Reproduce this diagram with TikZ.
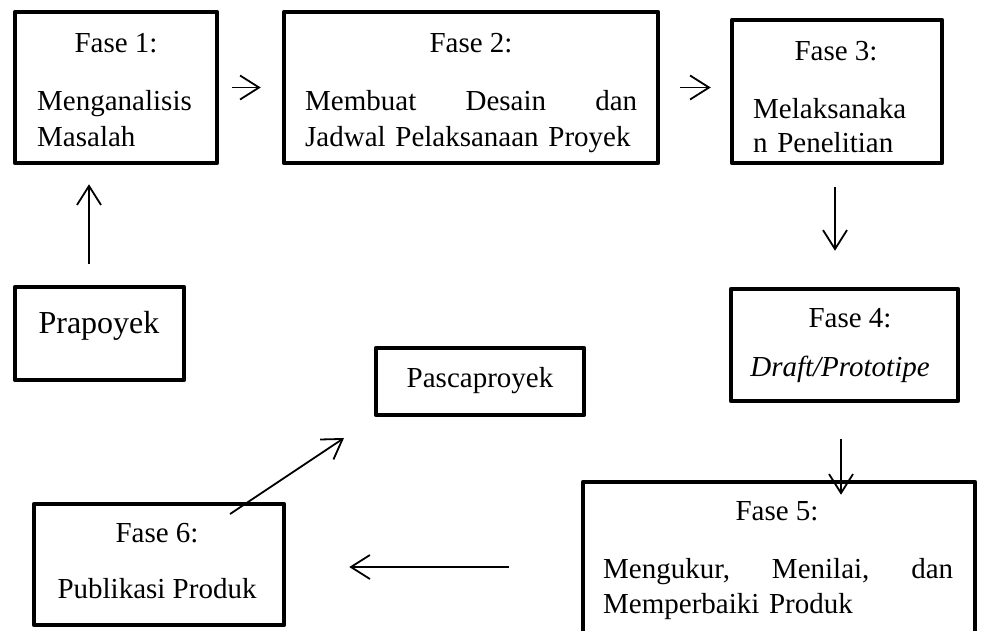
\documentclass[tikz,border=0pt]{standalone}
\usepackage{fontspec}
\setmainfont{Liberation Serif}
\usetikzlibrary{arrows.meta}
\tikzset{
  box/.style={draw,line width=4.5pt,line join=round,inner sep=0pt},
  txt/.style={font=\fontsize{29}{36}\selectfont,inner sep=0pt},
  big/.style={font=\fontsize{32}{38}\selectfont,inner sep=0pt},
  arr/.style={line width=1.8pt,-{Straight Barb[length=19pt,width=24pt,line width=1.8pt]}},
}

\begin{document}
\begin{tikzpicture}[x=1pt,y=-1pt]
  \useasboundingbox (0,0) rectangle (982,630);
  \node[box,minimum width=202pt,minimum height=151pt] (f1) at (116,87.5) {};
  \node[box,minimum width=374pt,minimum height=151pt] (f2) at (471,87.5) {};
  \node[box,minimum width=210pt,minimum height=143pt] (f3) at (837,91.5) {};
  \node[box,minimum width=169pt,minimum height=93pt] (pra) at (99.5,333.5) {};
  \node[box,minimum width=208pt,minimum height=67pt] (pasca) at (480,381.5) {};
  \node[box,minimum width=227pt,minimum height=112pt] (f4) at (844.5,345) {};
  \node[box,minimum width=392pt,minimum height=168pt] (f5) at (779,566) {};
  \node[box,minimum width=250pt,minimum height=121pt] (f6) at (159,564.5) {};
  \node[txt,anchor=base] (f1a) at (116,52) {Fase 1:};
  \node[txt,anchor=base west,text width=175pt,align=left] (f1b) at (37,110) {Menganalisis\\Masalah};
  \node[txt,anchor=base] (f2a) at (471,52) {Fase 2:};
  \node[txt,anchor=base west,text width=332pt,align=left] (f2b) at (305,110) {Membuat\hfill Desain\hfill dan\\Jadwal Pelaksanaan Proyek};
  \node[txt,anchor=base] (f3a) at (836,60) {Fase 3:};
  \node[txt,anchor=base west,text width=185pt,align=left] (f3b) at (753,118) {Melaksanaka\\[-2pt]n Penelitian};
  \node[big,anchor=base] (praa) at (99,333) {Prapoyek};
  \node[txt,anchor=base] (pascaa) at (480,387) {Pascaproyek};
  \node[txt,anchor=base] (f4a) at (850,327) {Fase 4:};
  \node[txt,anchor=base] (f4b) at (840,376) {\textit{Draft/Prototipe}};
  \node[txt,anchor=base] (f5a) at (777,520) {Fase 5:};
  \node[txt,anchor=base west,text width=350pt,align=left] (f5b) at (603,578) {Mengukur,\hfill Menilai,\hfill dan\\[-1pt]Memperbaiki Produk};
  \node[txt,anchor=base] (f6a) at (157,542) {Fase 6:};
  \node[txt,anchor=base] (f6b) at (157,598) {Publikasi Produk};
  \coordinate (d6) at (230,514);
  \coordinate (dp) at (344,438);
  \draw[arr,shorten <=13pt,shorten >=21pt] (f1.east) -- (f2.west);
  \draw[arr,shorten <=20pt,shorten >=19pt] (f2.east) -- (f2.east -| f3.west);
  \draw[arr,shorten <=22pt,shorten >=36pt] ([xshift=-2pt]f3.south) -- ([xshift=-2pt]f3.south |- f4.north);
  \draw[arr,shorten <=21pt,shorten >=19pt] ([xshift=-10.5pt]pra.north) -- ([xshift=-10.5pt]pra.north |- f1.south);
  \draw[arr,shorten <=36pt,shorten >=-15pt] ([xshift=-3.5pt]f4.south) -- ([xshift=-3.5pt]f4.south |- f5.north);
  \draw[arr,shorten <=72pt,shorten >=63pt] (f5.west |- 0,567) -- (f6.east |- 0,567);
  \draw[arr] (d6) -- (dp);
\end{tikzpicture}
\end{document}
